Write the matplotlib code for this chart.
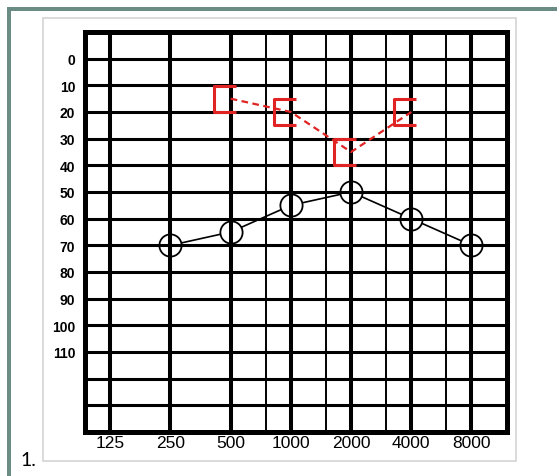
import numpy as np
import matplotlib
matplotlib.use("Agg")
import matplotlib.pyplot as plt
from matplotlib.path import Path
from matplotlib.patches import Rectangle

# audiogram data
freq_labels = ['125', '250', '500', '1000', '2000', '4000', '8000']
octave_freqs = [125, 250, 500, 1000, 2000, 4000, 8000]
half_octave_freqs = [750, 1500, 3000, 6000]
db_ticks = [0, 10, 20, 30, 40, 50, 60, 70, 80, 90, 100, 110]
db_lines = list(range(0, 140, 10))

# air conduction (circles)
ac_freqs = [250, 500, 1000, 2000, 4000, 8000]
ac_db = [70, 65, 55, 50, 60, 70]

# masked bone conduction (red brackets)
bc_freqs = [500, 1000, 2000, 4000]
bc_db = [15, 20, 35, 20]


def pos(f):
    # octave position, 125 Hz = 0
    return np.log2(np.asarray(f, dtype=float) / 125.0)


W, H = 557, 477
fig = plt.figure(figsize=(W / 100, H / 100), dpi=100)

# outer slide frame + scanned picture edge
green = '#6b8c85'
fig.add_artist(Rectangle((7 / W, 0), 4 / W, 1 - 8 / H, transform=fig.transFigure,
                         color=green, lw=0))
fig.add_artist(Rectangle((7 / W, 1 - 12 / H), 1 - 7 / W, 4 / H, transform=fig.transFigure,
                         color=green, lw=0))
fig.add_artist(Rectangle((43 / W, 1 - 462 / H), (516 - 43) / W, (462 - 19) / H,
                         transform=fig.transFigure, fill=False, ec='#d4d4d4', lw=1.2))
fig.text(20 / W, 1 - 461 / H, '1.', fontsize=14, family='Lato', va='center', ha='left')

ax = fig.add_axes([85 / W, 1 - 433 / H, (507 - 85) / W, (433 - 33) / H])
ax.set_xlim(-0.42, 6.59)
ax.set_ylim(140, -10)

# grid
for d in db_lines:
    ax.axhline(d, color='black', lw=2.2, zorder=3)
for f in octave_freqs:
    ax.axvline(pos(f), color='black', lw=2.9, zorder=3)
for f in half_octave_freqs:
    ax.axvline(pos(f), color='black', lw=1.4, zorder=3)
for s in ax.spines.values():
    s.set_linewidth(3.6)
    s.set_zorder(6)

ax.set_xticks(pos(octave_freqs))
ax.set_xticklabels(freq_labels, fontsize=12.5, family='Liberation Sans')
ax.set_yticks(db_ticks)
ax.set_yticklabels([str(d) for d in db_ticks], fontsize=10, family='Liberation Sans',
                   fontweight='bold')
ax.tick_params(axis='x', length=0, pad=2)
ax.tick_params(axis='y', length=0, pad=7)

# air conduction line + circles
ax.plot(pos(ac_freqs), ac_db, color='black', lw=1.2, zorder=1)
ax.plot(pos(ac_freqs), ac_db, linestyle='none', marker='o', ms=16, mfc='white',
        mec='black', mew=1.3, zorder=2)

# bracket marker "["
bracket = Path([(5, -13), (-17, -13), (-17, 13), (5, 13)],
               [Path.MOVETO, Path.LINETO, Path.LINETO, Path.LINETO])
red = '#e02424'
ax.plot(pos(bc_freqs), bc_db, color=red, lw=1.6, dashes=(3, 2), zorder=4)
ax.plot(pos(bc_freqs), bc_db, linestyle='none', marker=bracket, ms=24.5,
        mfc='none', mec=red, mew=2.2, zorder=5)

fig.savefig('out.png', dpi=100)
